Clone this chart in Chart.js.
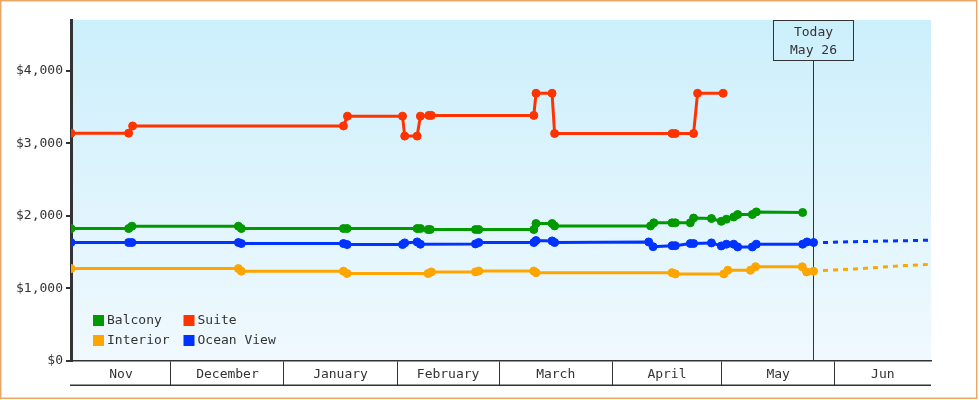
<!DOCTYPE html>
<html><head><meta charset="utf-8">
<script src="https://cdn.jsdelivr.net/npm/chart.js@4.4.0/dist/chart.umd.min.js"></script>
<style>html,body{margin:0;padding:0;background:#fff}canvas{display:block}</style>
</head><body>
<canvas id="c" width="980" height="400"></canvas>
<script>
// x values are days counted from Nov 1 (Nov 1 = 0)
const xRange = [2.6, 238.4];
const monthBoundaries = [30, 61, 92, 120, 151, 181, 212];
const monthNames = ['Nov', 'December', 'January', 'February', 'March', 'April', 'May', 'Jun'];
const yTicks = [0, 1000, 2000, 3000, 4000];
const yMax = 4700;
const todayDay = 206;
const todayLabel = ['Today', 'May 26'];

const seriesNames = ['Balcony', 'Suite', 'Interior', 'Ocean View'];
const seriesColors = ['#009900', '#FF3300', '#FFA500', '#0033FF'];

const balcony = [[2.6,1826],[18.4,1826],[19.3,1858],[48.5,1858],[49.3,1826],[77.3,1826],[78.3,1826],[97.5,1826],[98.4,1826],[100.5,1812],[101.1,1812],[113.5,1812],[114.4,1812],[129.5,1812],[130.1,1895],[134.5,1895],[135.2,1862],[161.5,1862],[162.4,1905],[167.4,1905],[168.3,1905],[172.4,1905],[173.3,1970],[178.2,1964],[180.9,1925],[182.3,1955],[184.3,1985],[185.4,2019],[189.4,2019],[190.5,2055],[203.2,2047]];
const suite = [[2.6,3140],[18.4,3140],[19.5,3240],[77.3,3240],[78.4,3375],[93.5,3375],[94.1,3100],[97.5,3100],[98.4,3375],[100.7,3385],[101.4,3385],[129.5,3385],[130.1,3690],[134.5,3690],[135.2,3135],[167.4,3135],[168.3,3135],[173.3,3135],[174.4,3690],[181.4,3690]];
const interior = [[2.6,1274],[48.5,1274],[49.3,1238],[77.3,1238],[78.3,1206],[100.5,1206],[101.4,1228],[113.5,1228],[114.4,1240],[129.5,1240],[130.1,1218],[167.4,1218],[168.3,1200],[181.6,1200],[182.7,1251],[188.9,1251],[190.3,1300],[203.1,1298],[204.3,1228],[206.2,1237]];
const oceanView = [[2.6,1633],[18.4,1633],[19.3,1633],[48.5,1633],[49.3,1619],[77.3,1619],[78.3,1605],[93.5,1605],[94.1,1628],[97.5,1641],[98.4,1610],[113.5,1614],[114.4,1633],[129.5,1633],[130.1,1660],[134.5,1655],[135.2,1633],[161.0,1641],[162.2,1576],[167.4,1590],[168.3,1590],[172.4,1619],[173.3,1619],[178.2,1628],[180.9,1586],[182.3,1610],[184.3,1610],[185.4,1572],[189.4,1572],[190.5,1610],[203.2,1610],[204.4,1641],[206.2,1633]];
const interiorForecast = [[208.8,1247],[217.4,1268],[231.1,1315],[238.4,1334]];
const oceanViewForecast = [[208.8,1633],[217.4,1645],[231.1,1658],[238.4,1665]];

const FONT = '"DejaVu Sans Mono", "Liberation Mono", monospace';
const TEXT = '#333333';

const toPts = arr => arr.map(([x, y]) => ({x, y}));
function solid(i, arr) {
  return {label: seriesNames[i], data: toPts(arr), borderColor: seriesColors[i], backgroundColor: seriesColors[i],
    borderWidth: 3, pointRadius: 4, pointBorderWidth: 1, pointBorderColor: seriesColors[i],
    pointBackgroundColor: seriesColors[i], tension: 0, fill: false};
}
function dashed(i, arr) {
  return {label: seriesNames[i] + ' forecast', data: toPts(arr), borderColor: seriesColors[i],
    borderWidth: 3, borderDash: [5, 5], pointRadius: 0, tension: 0, fill: false};
}

// x tick list: month boundaries (marks only) + month middles (labels only)
const edges = [xRange[0], ...monthBoundaries, xRange[1]];
const mids = monthNames.map((n, i) => (edges[i] + edges[i + 1]) / 2);
const labelMap = new Map();
mids.forEach((m, i) => labelMap.set(m, monthNames[i]));
const xTickVals = [...monthBoundaries, ...mids].sort((a, b) => a - b);

const decor = {
  id: 'decor',
  beforeDraw(chart) {
    const {ctx, chartArea: a} = chart;
    const g = ctx.createLinearGradient(0, a.top, 0, a.bottom);
    g.addColorStop(0, '#CCEFFC');
    g.addColorStop(1, '#F0F9FE');
    ctx.save();
    ctx.fillStyle = g;
    ctx.fillRect(a.left, a.top, a.right - a.left, a.bottom - a.top);
    ctx.restore();
  },
  beforeDatasetsDraw(chart) {
    const {ctx, chartArea: a, scales} = chart;
    const x = Math.round(scales.x.getPixelForValue(todayDay)) + 0.5;
    const bw = 80, bh = 40;
    const bx = Math.round(x - 41), by = a.top;
    ctx.save();
    ctx.strokeStyle = TEXT;
    ctx.lineWidth = 1;
    ctx.beginPath();
    ctx.moveTo(x, by + bh);
    ctx.lineTo(x, a.bottom);
    ctx.stroke();
    ctx.strokeRect(bx + 0.5, by + 0.5, bw, bh);
    ctx.fillStyle = TEXT;
    ctx.font = '13px ' + FONT;
    ctx.textAlign = 'center';
    ctx.textBaseline = 'middle';
    ctx.fillText(todayLabel[0], x, by + 12.5);
    ctx.fillText(todayLabel[1], x, by + 30.5);
    ctx.restore();
  },
  afterDatasetsDraw(chart) {
    const {ctx, chartArea: a} = chart;
    ctx.save();
    ctx.font = '13px ' + FONT;
    ctx.textBaseline = 'middle';
    ctx.textAlign = 'left';
    [0, 1, 2, 3].forEach((si, k) => {
      const col = k % 2, row = Math.floor(k / 2);
      const sx = a.left + 22 + col * 90.5;
      const sy = a.bottom - 46 + row * 20;
      ctx.fillStyle = seriesColors[si];
      ctx.fillRect(sx, sy, 11, 11);
      ctx.fillStyle = TEXT;
      ctx.fillText(seriesNames[si], sx + 14, sy + 6);
    });
    ctx.restore();
  },
  afterDraw(chart) {
    const {ctx, chartArea: a} = chart;
    ctx.save();
    ctx.strokeStyle = TEXT;
    ctx.lineWidth = 1.5;
    ctx.beginPath();
    ctx.moveTo(a.left - 1, Math.round(a.bottom + 24) + 0.25);
    ctx.lineTo(a.right, Math.round(a.bottom + 24) + 0.25);
    ctx.stroke();
    ctx.strokeStyle = '#E9A964';
    ctx.lineWidth = 1.5;
    ctx.strokeRect(0.75, 0.75, 976, 397.5);
    ctx.restore();
  }
};

new Chart(document.getElementById('c'), {
  type: 'line',
  data: {datasets: [
    solid(0, balcony), solid(1, suite), solid(2, interior), solid(3, oceanView),
    dashed(2, interiorForecast), dashed(3, oceanViewForecast)
  ]},
  options: {
    responsive: false, animation: false, devicePixelRatio: 1,
    layout: {padding: {top: 20, right: 49, left: 0, bottom: 0}},
    plugins: {legend: {display: false}, tooltip: {enabled: false}},
    scales: {
      x: {
        type: 'linear', min: xRange[0], max: xRange[1],
        afterBuildTicks: s => { s.ticks = xTickVals.map(v => ({value: v})); },
        afterFit: s => { s.height = 39; },
        grid: {drawOnChartArea: false, tickLength: 24, lineWidth: 1,
          color: c => (c.tick && labelMap.has(c.tick.value)) ? 'rgba(0,0,0,0)' : TEXT},
        border: {color: TEXT, width: 1.5},
        ticks: {autoSkip: false, maxRotation: 0, minRotation: 0, padding: -18, color: TEXT,
          font: {family: FONT, size: 13},
          callback: v => labelMap.has(v) ? labelMap.get(v) : ''}
      },
      y: {
        min: 0, max: yMax,
        afterBuildTicks: s => { s.ticks = yTicks.map(v => ({value: v})); },
        afterFit: s => { s.width = 71; },
        grid: {drawOnChartArea: false, tickLength: 5, lineWidth: 2, color: TEXT},
        border: {color: TEXT, width: 3},
        ticks: {padding: 3, color: TEXT, font: {family: FONT, size: 13},
          callback: v => '$' + v.toLocaleString('en-US')}
      }
    }
  },
  plugins: [decor]
});
</script>
</body></html>
